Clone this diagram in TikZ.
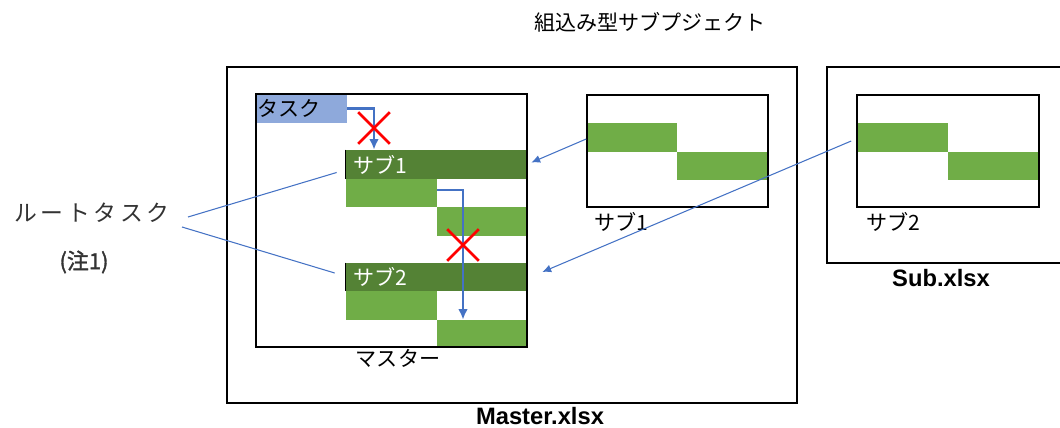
\documentclass[tikz,border=0pt]{standalone}
\usepackage{fontspec}
\setmainfont{Liberation Sans}
\newfontfamily\jpfont{Noto Sans CJK JP}
\newfontfamily\jpwide{Noto Sans CJK JP}[LetterSpace=16]
\newfontfamily\jpbold{Noto Sans CJK JP}[FakeBold=1.5]
\usetikzlibrary{fit,positioning,calc,arrows.meta}
\definecolor{darkgreen}{HTML}{548235}
\definecolor{lightgreen}{HTML}{70AD47}
\definecolor{taskblue}{HTML}{8EA9DB}
\definecolor{linkblue}{HTML}{4472C4}
\tikzset{
    frame/.style={draw=black, line width=0.9pt, inner sep=0pt},
    gbar/.style={fill=lightgreen, inner sep=0pt},
    dbar/.style={fill=darkgreen, inner sep=0pt},
    tbar/.style={fill=taskblue, inner sep=0pt},
    jptext/.style={font=\jpfont\fontsize{12}{14}\selectfont, inner sep=0pt},
    filename/.style={font=\fontsize{13.5}{15}\selectfont\bfseries, inner sep=0pt},
    link/.style={draw=linkblue, line width=0.6pt},
    linkarrow/.style={link, -{Latex[length=5pt,width=4.5pt]}},
    flow/.style={draw=linkblue, line width=1.6pt, -{Latex[length=6pt,width=5.5pt]}},
    cross/.style={minimum size=0.62cm, inner sep=0pt},
    crossline/.style={draw=red, line width=1.6pt}
}
\begin{document}
\begin{tikzpicture}[x=0.02cm, y=-0.02cm]
    \useasboundingbox (0,0) rectangle (1060,428);

    % Titel
    \node[jptext] (title) at (650,22) {組込み型サブプジェクト};

    % Master.xlsx
    \node[frame, fit={(227,67) (797,403)}] (master) {};
    \node[filename] (mastername) at (540,416) {Master.xlsx};

    % Sheet "master" with bars
    \node[tbar, fit={(256,94) (347,123)}] (task) {};
    \node[jptext, anchor=west] at ([xshift=1pt]task.west) {タスク};
    \node[dbar, fit={(346,150) (527,179)}] (sub1) {};
    \draw[black, line width=0.8pt] (sub1.north west) -- (sub1.south west);
    \node[jptext, white, anchor=west] at ([xshift=4pt]sub1.west) {サブ1};
    \node[gbar, fit={(346,179) (437,207)}] (sub1a) {};
    \node[gbar, fit={(437,207) (527,236)}] (sub1b) {};
    \node[dbar, fit={(346,263) (527,291)}] (sub2) {};
    \draw[black, line width=0.8pt] (sub2.north west) -- (sub2.south west);
    \node[jptext, white, anchor=west] at ([xshift=4pt]sub2.west) {サブ2};
    \node[gbar, fit={(346,291) (437,320)}] (sub2a) {};
    \node[gbar, fit={(437,320) (527,347)}] (sub2b) {};
    \node[frame, fit={(256,94) (527,347)}] (sheet) {};
    \node[jptext] (sheetname) at (398,358) {マスター};

    % Verboden afhankelijkheden
    \node[cross] (x1) at (374,128) {};
    \node[cross] (x2) at (463,245) {};
    \draw[flow] (task.east) -| (x1 |- sub1.north);
    \draw[flow] ($(sub1a.east)+(0,-3)$) -| (x2 |- sub2b.north);
    \draw[crossline] (x1.north west) -- (x1.south east) (x1.north east) -- (x1.south west);
    \draw[crossline] (x2.north west) -- (x2.south east) (x2.north east) -- (x2.south west);

    % Sub.xlsx
    \draw[black, line width=0.9pt] (1062,67) -- (827,67) -- (827,263) -- (1062,263);
    \node[filename] (subname) at (941,278) {Sub.xlsx};

    % Subprojecten
    \node[gbar, fit={(587,123) (677,152)}] (p1a) {};
    \node[gbar, fit={(677,152) (768,180)}] (p1b) {};
    \node[frame, fit={(587,95) (768,207)}] (proj1) {};
    \node[jptext] (proj1name) at (621,222) {サブ1};
    \node[gbar, fit={(857,123) (948,152)}] (p2a) {};
    \node[gbar, fit={(948,152) (1039,180)}] (p2b) {};
    \node[frame, fit={(857,95) (1039,207)}] (proj2) {};
    \node[jptext] (proj2name) at (893,222) {サブ2};

    \draw[linkarrow] ($(proj1.west)+(0,-12)$) -- ($(sub1.east)+(4,-2)$);
    \draw[linkarrow] ($(proj2.west)+(-5,-10)$) -- ($(sub2.east)+(15,-5)$);

    % Root-taken
    \node[jptext, font=\jpwide\fontsize{13}{15}\selectfont, text=black!80] (root) at (92,213) {ルートタスク};
    \node[jptext, font=\jpbold\fontsize{12.5}{14}\selectfont, text=black!80] (note) at (84,262) {(注1)};
    \draw[link] (188,217) -- ($(sub1.west)+(-9,8)$);
    \draw[link] (182,227) -- ($(sub2.west)+(-11,-4)$);
\end{tikzpicture}
\end{document}
